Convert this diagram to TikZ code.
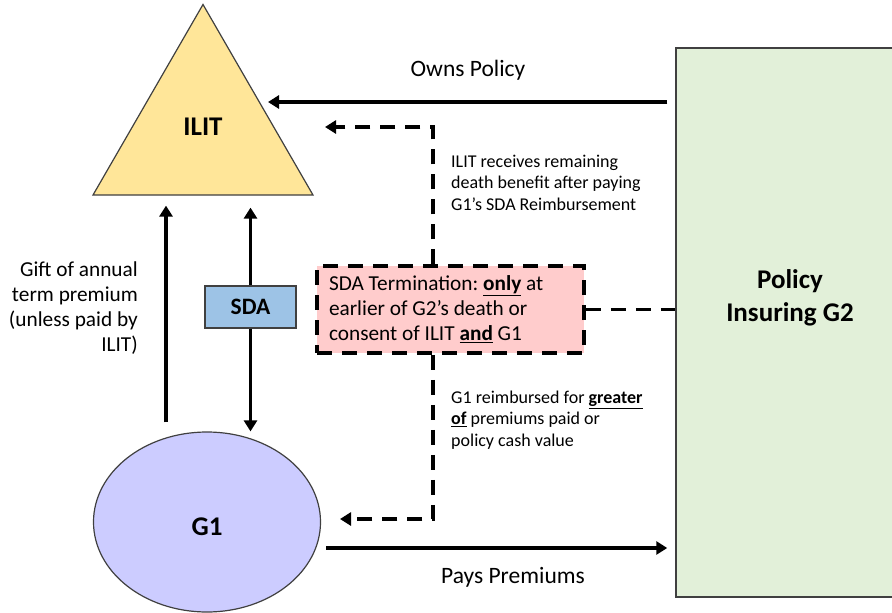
\documentclass[tikz,border=0pt]{standalone}
\usepackage{fontspec}
\setmainfont{Carlito}
\usetikzlibrary{shapes.geometric,arrows.meta,calc}
\definecolor{ilityellow}{HTML}{FFE699}
\definecolor{gonelilac}{HTML}{CCCCFF}
\definecolor{sdablue}{HTML}{9DC3E6}
\definecolor{termpink}{HTML}{FFCCCC}
\definecolor{policygreen}{HTML}{E2F0D9}
\definecolor{edgegrey}{HTML}{404040}
\newcommand{\partyfont}{\fontsize{27}{33}\selectfont\bfseries}
\newcommand{\sdafont}{\fontsize{23.5}{28}\selectfont\bfseries}
\newcommand{\flowfont}{\fontsize{23.5}{28}\selectfont}
\newcommand{\notefont}{\fontsize{21.3}{25}\selectfont}
\newcommand{\smallfont}{\fontsize{18}{21.5}\selectfont}
\newcommand{\ulb}[1]{\underline{\textbf{#1}}}
\frenchspacing

\begin{document}
\begin{tikzpicture}[x=1pt,y=1pt,
  party/.style={draw=edgegrey,line width=1.2pt,inner sep=0pt},
  flow/.style={line width=3.5pt,-{Triangle[width=13pt,length=11pt]}},
  dashflow/.style={flow,dash pattern=on 15pt off 10pt},
  dashline/.style={line width=3.5pt,dash pattern=on 15pt off 10pt},
  label/.style={inner sep=0pt}]
  \useasboundingbox (0,0) rectangle (892,-613);

  % parties
  \node[party,regular polygon,regular polygon sides=3,minimum size=254pt,fill=ilityellow] (ilit) at (203,-131.5) {};
  \node[party,ellipse,minimum width=227pt,minimum height=180pt,fill=gonelilac] (g1) at (207,-522) {};
  \node[party,line width=1.5pt,minimum width=229pt,minimum height=549pt,fill=policygreen] (policy) at (790.5,-322.5) {};
  \node[label,font=\partyfont] (ilitlbl) at (203,-127) {ILIT};
  \node[label,font=\partyfont] (g1lbl) at (207,-527) {G1};
  \node[label,font=\partyfont,align=center] (policylbl) at (790,-298) {Policy\\Insuring G2};

  \node[draw=edgegrey,line width=1.2pt,fill=sdablue,minimum width=91pt,minimum height=42pt,inner sep=0pt,font=\sdafont] (sda) at (250.5,-307) {SDA};
  \node[draw=black,dashline,fill=termpink,text width=243pt,inner xsep=12pt,minimum height=87pt,align=flush left,font=\notefont] (term) at (450.5,-309.5)
    {SDA Termination: \ulb{only} at\\earlier of G2's death or\\consent of ILIT \ulb{and} G1};

  % free ends
  \coordinate (giftx) at (166,0);
  \coordinate (deathx) at (433,0);
  \coordinate (ownstip) at (268,-102);
  \coordinate (paysfoot) at (326,-548);
  \coordinate (ilitback) at (325,-127);
  \coordinate (g1back) at (340,-519);

  % solid flows
  \draw[flow] ($(g1.north -| giftx)+(0,9)$) -- ($(ilit.south -| giftx)+(0,-10)$);
  \draw[flow] (sda.north) -- ($(ilit.south -| sda)+(0,-12)$);
  \draw[flow] (sda.south) -- (g1.north -| sda);
  \draw[flow] ($(policy.west |- ownstip)+(-8,0)$) -- (ownstip);
  \draw[flow] (paysfoot) -- ($(policy.west |- paysfoot)+(-8,0)$);

  % termination links
  \draw[dashflow] (term.north -| deathx) |- (ilitback);
  \draw[dashflow] (term.south -| deathx) |- (g1back);
  \draw[dashline] (term.east) -- (policy.west |- term.east);

  % labels
  \node[label,font=\flowfont] (ownslbl) at (468,-70) {Owns Policy};
  \node[label,font=\flowfont] (payslbl) at (513,-577) {Pays Premiums};
  \node[label,font=\notefont,align=right,anchor=east] (giftlbl) at (138,-308)
    {Gift of annual\\term premium\\(unless paid by\\ILIT)};
  \node[label,font=\smallfont,align=left,anchor=west] (benefitlbl) at (451,-182.5)
    {ILIT receives remaining\\death benefit after paying\\G1's SDA Reimbursement};
  \node[label,font=\smallfont,align=left,anchor=west] (reimblbl) at (451,-420)
    {G1 reimbursed for \ulb{greater}\\\ulb{of} premiums paid or\\policy cash value};
\end{tikzpicture}
\end{document}
